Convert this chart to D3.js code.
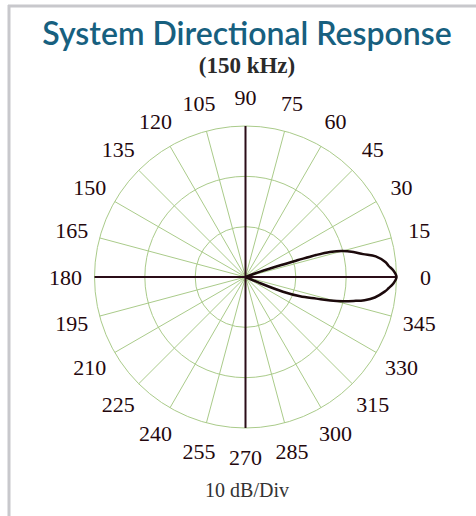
<!DOCTYPE html>
<html>
<head>
<meta charset="utf-8">
<script src="https://cdn.jsdelivr.net/npm/d3@7"></script>
<style>
  body { margin: 0; background: #fff; }
  svg { display: block; }
</style>
</head>
<body>
<div id="main-vis"></div>
<script>
// response lobe, angle in degrees vs level in dB (0 dB = outer ring)
var respAngle = [-25, -23, -21.5, -19.5, -17, -15.5, -14, -12.5, -11, -9, -6, -4.5, -2.5, 0,
                 2.5, 4.5, 6, 9, 11, 13, 15, 16.5, 17.3, 17.8, 18.5, 20, 25];
var respDb    = [-30, -27, -22, -18.5, -15.3, -12.5, -10.1, -8, -5.9, -4, -2.2, -1.5, -0.6, 0,
                 -0.6, -1.5, -2, -3.8, -6.2, -8, -10, -12.5, -15.3, -19, -22.5, -27, -30];
var ringDb = [-20, -10, 0];
var spokes = d3.range(0, 360, 15);
var labelAngles = d3.range(0, 360, 15);

var W = 476, H = 516;
var cx = 245.5, cy = 277, R = 151;

var svg = d3.select("#main-vis").append("svg")
  .attr("width", W)
  .attr("height", H);

// frame
svg.append("line").attr("x1", 8).attr("x2", W).attr("y1", 6).attr("y2", 6)
  .attr("stroke", "#c8c8cc").attr("stroke-width", 3);
svg.append("line").attr("x1", 9).attr("x2", 9).attr("y1", 5).attr("y2", H)
  .attr("stroke", "#c8c8cc").attr("stroke-width", 3);

svg.append("text")
  .attr("x", 247).attr("y", 45)
  .attr("text-anchor", "middle")
  .style("font-family", "Lato, sans-serif")
  .style("font-size", "32px")
  .style("font-weight", "600")
  .attr("fill", "#17607f")
  .text("System Directional Response");

svg.append("text")
  .attr("x", 247).attr("y", 73)
  .attr("text-anchor", "middle")
  .style("font-family", "'Liberation Serif', serif")
  .style("font-size", "23px")
  .style("font-weight", "bold")
  .attr("fill", "#2a2a2a")
  .text("(150 kHz)");

var r = d3.scaleLinear().domain([-30, 0]).range([0, R]).clamp(true);
var rad = function (deg) { return deg * Math.PI / 180; };

var g = svg.append("g")
  .attr("transform", "translate(" + cx + "," + cy + ")");

// grid rings
g.selectAll(".ring")
  .data(ringDb)
  .enter().append("circle")
  .attr("r", function (d) { return r(d); })
  .attr("fill", "none")
  .attr("stroke", "#aacb8a")
  .attr("stroke-width", 1);

// spokes
g.selectAll(".spoke")
  .data(spokes.filter(function (d) { return d % 90 != 0; }))
  .enter().append("line")
  .attr("x1", 0).attr("y1", 0)
  .attr("x2", function (d) { return R * Math.cos(rad(d)); })
  .attr("y2", function (d) { return -R * Math.sin(rad(d)); })
  .attr("stroke", "#aacb8a")
  .attr("stroke-width", 1);

// main axes
g.selectAll(".axis")
  .data([0, 90])
  .enter().append("line")
  .attr("x1", function (d) { return -R * Math.cos(rad(d)); })
  .attr("y1", function (d) { return R * Math.sin(rad(d)); })
  .attr("x2", function (d) { return R * Math.cos(rad(d)); })
  .attr("y2", function (d) { return -R * Math.sin(rad(d)); })
  .attr("stroke", "#2b0d18")
  .attr("stroke-width", 2);

// response curve
var pts = respAngle.map(function (a, i) { return [rad(90 - a), r(respDb[i])]; });
var line = d3.lineRadial()
  .angle(function (d) { return d[0]; })
  .radius(function (d) { return d[1]; })
  .curve(d3.curveCatmullRom);

g.append("path")
  .datum(pts)
  .attr("d", line)
  .attr("fill", "none")
  .attr("stroke", "#1c0a0c")
  .attr("stroke-width", 2.5)
  .attr("stroke-linejoin", "round");

// angle labels
g.selectAll(".lbl")
  .data(labelAngles)
  .enter().append("text")
  .attr("x", function (d) { return 180 * Math.cos(rad(d)); })
  .attr("y", function (d) { return -180 * Math.sin(rad(d)); })
  .attr("text-anchor", "middle")
  .attr("dy", "0.35em")
  .style("font-family", "'Liberation Serif', serif")
  .style("font-size", "22px")
  .attr("fill", "#24070d")
  .text(function (d) { return d; });

svg.append("text")
  .attr("x", 247).attr("y", 497)
  .attr("text-anchor", "middle")
  .style("font-family", "'Liberation Serif', serif")
  .style("font-size", "20px")
  .attr("fill", "#333")
  .text("10 dB/Div");
</script>
</body>
</html>
